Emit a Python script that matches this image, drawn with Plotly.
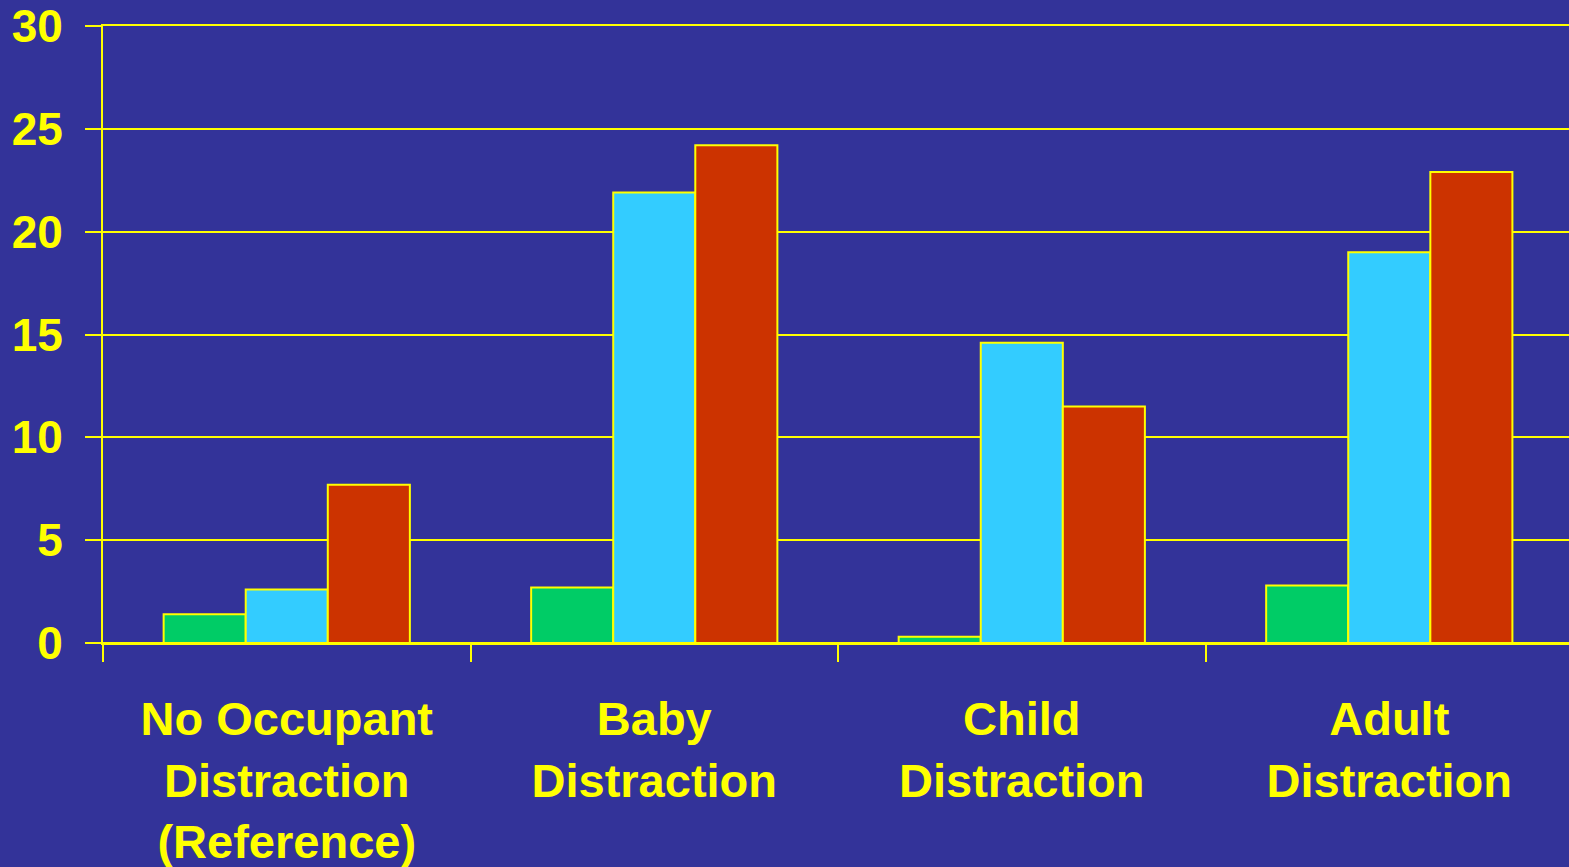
import plotly.graph_objects as go

# Categories and series values
categories = [
    "No Occupant<br>Distraction<br>(Reference)",
    "Baby<br>Distraction",
    "Child<br>Distraction",
    "Adult<br>Distraction",
]
series_green = [1.4, 2.7, 0.3, 2.8]
series_blue = [2.6, 21.9, 14.6, 19.0]
series_red = [7.7, 24.2, 11.5, 22.9]
y_ticks = [0, 5, 10, 15, 20, 25, 30]

YELLOW = "#FFFF00"
BG = "#333399"

fig = go.Figure()
for vals, color in [(series_green, "#00CC66"), (series_blue, "#33CCFF"), (series_red, "#CC3300")]:
    fig.add_trace(go.Bar(
        x=categories, y=vals,
        marker=dict(color=color, line=dict(color=YELLOW, width=2)),
        showlegend=False,
    ))

fig.update_layout(
    width=1569, height=867,
    paper_bgcolor=BG, plot_bgcolor=BG,
    margin=dict(l=103, r=0, t=26, b=224),
    barmode="group", bargap=0.33, bargroupgap=0,
    font=dict(family="Liberation Sans, Arial, sans-serif", color=YELLOW),
    xaxis=dict(
        type="category",
        range=[-0.5, 3.489],
        tickson="boundaries",
        ticks="outside", ticklen=17, tickwidth=2, tickcolor=YELLOW,
        showgrid=False,
        showline=True, linecolor=YELLOW, linewidth=2, mirror=True,
        tickfont=dict(size=47, color=YELLOW, family="Liberation Sans, Arial, sans-serif", weight="bold"),
        ticklabelstandoff=34,
    ),
    yaxis=dict(
        range=[0, 30],
        tickvals=y_ticks,
        ticks="outside", ticklen=16, tickwidth=2, tickcolor=YELLOW,
        showgrid=True, gridcolor=YELLOW, gridwidth=2,
        zeroline=True, zerolinecolor=YELLOW, zerolinewidth=2,
        showline=True, linecolor=YELLOW, linewidth=2,
        tickfont=dict(size=46, color=YELLOW, family="Liberation Sans, Arial, sans-serif", weight="bold"),
        ticklabelstandoff=13,
    ),
)

fig.write_html("out.html")
